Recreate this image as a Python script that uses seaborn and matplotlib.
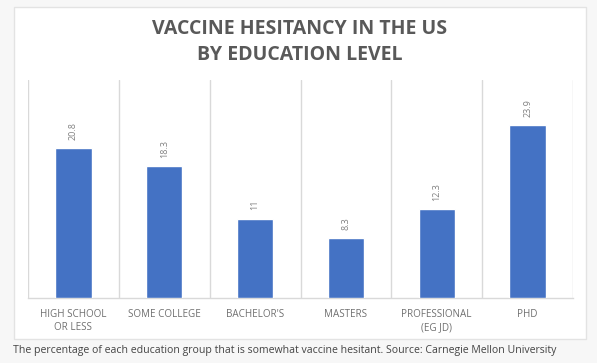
import matplotlib
matplotlib.use("Agg")
import matplotlib.pyplot as plt
import seaborn as sns
import pandas as pd
from matplotlib.patches import Rectangle

categories = ["HIGH SCHOOL\nOR LESS", "SOME COLLEGE", "BACHELOR'S", "MASTERS", "PROFESSIONAL\n(EG JD)", "PHD"]
values = [20.8, 18.3, 11, 8.3, 12.3, 23.9]
value_labels = ["20.8", "18.3", "11", "8.3", "12.3", "23.9"]
title = "VACCINE HESITANCY IN THE US\nBY EDUCATION LEVEL"
caption = "The percentage of each education group that is somewhat vaccine hesitant. Source: Carnegie Mellon University"

sns.set_theme(style="white")
plt.rcParams['font.family'] = ['Open Sans', 'DejaVu Sans']

W, H = 597, 363
fig = plt.figure(figsize=(W / 100, H / 100), dpi=100)
fig.patch.set_facecolor("#f7f7f7")

# card
card = Rectangle((14 / W, 1 - 339 / H), (586 - 14) / W, (339 - 7) / H,
                 transform=fig.transFigure, facecolor="white", edgecolor="#e3e3e3",
                 linewidth=1, zorder=-5)
fig.patches.append(card)

left, right, top, bottom = 28, 573, 80, 298
ax = fig.add_axes([left / W, 1 - bottom / H, (right - left) / W, (bottom - top) / H])
ax.set_zorder(2)
ax.set_facecolor("none")

df = pd.DataFrame({"cat": categories, "val": values})
sns.barplot(data=df, x="cat", y="val", color="#4472C4", width=0.4, ax=ax, zorder=3,
            saturation=1)

ax.set_xlim(-0.5, len(categories) - 0.5)
ax.set_ylim(0, 30.2)
for xv in [i - 0.5 for i in range(len(categories) + 1)]:
    ax.axvline(xv, color="#d9d9d9", linewidth=1, zorder=1)

for s in ["top", "left", "right"]:
    ax.spines[s].set_visible(False)
ax.spines["bottom"].set_color("#d9d9d9")
ax.spines["bottom"].set_linewidth(1)

ax.set_yticks([])
ax.set_xlabel("")
ax.set_ylabel("")
ax.tick_params(axis="x", length=0, pad=8, labelsize=7.1, labelcolor="#707070")
for lbl in ax.get_xticklabels():
    lbl.set_linespacing(1.2)

ax.bar_label(ax.containers[0], labels=value_labels, rotation=90, padding=6,
             fontsize=6.5, color="#808080")

fig.text(300 / W, 1 - 41.5 / H, title, ha="center", va="center", fontsize=14,
         fontweight="bold", color="#595959", linespacing=1.4)

fig.text(13 / W, 1 - 350 / H, caption, ha="left", va="center", fontsize=7.6,
         color="#444444")

fig.savefig("out.png", dpi=100, facecolor=fig.get_facecolor())
